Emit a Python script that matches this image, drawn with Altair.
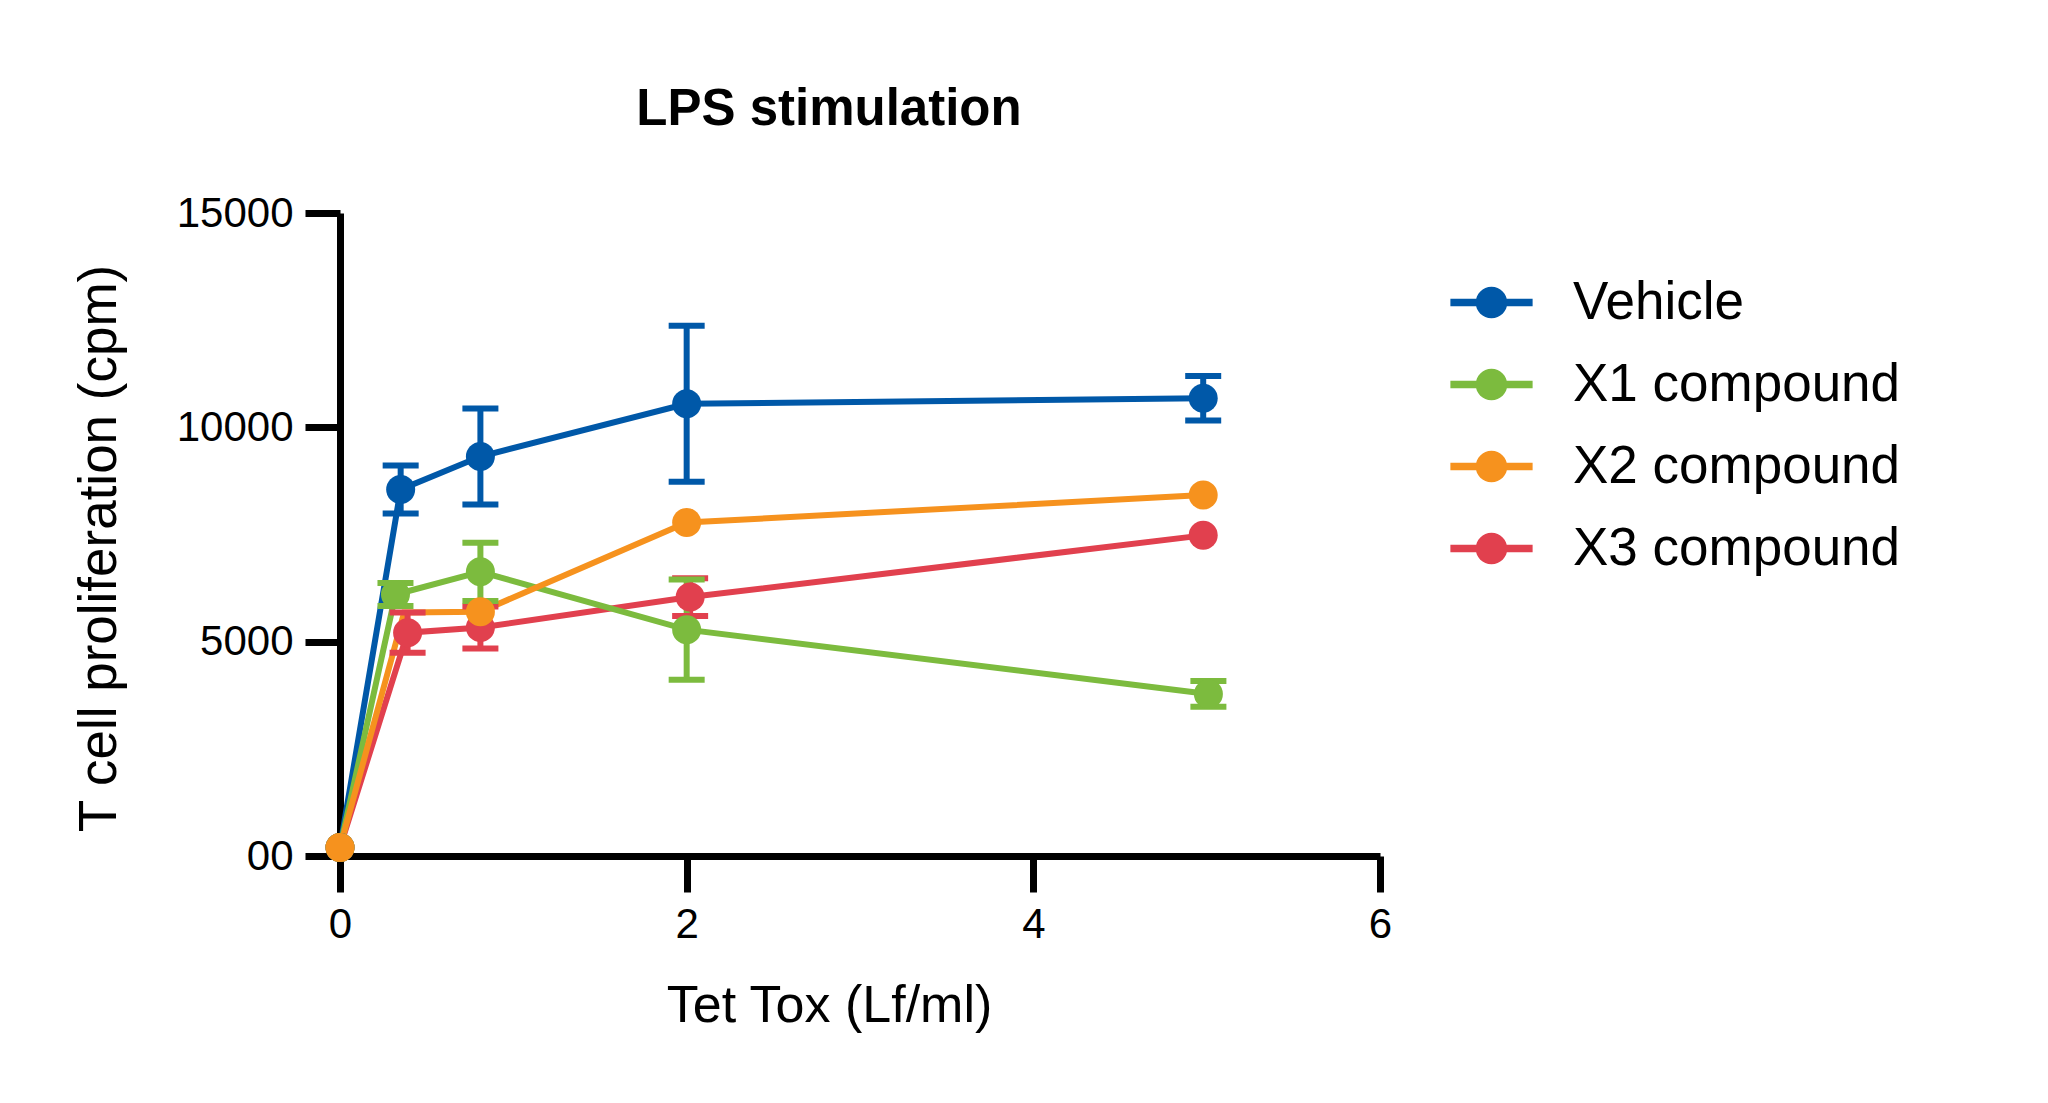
import altair as alt
import pandas as pd

series = ["Vehicle", "X1 compound", "X2 compound", "X3 compound"]
colors = ["#0058A8", "#7CBB3E", "#F6921E", "#E1404E"]
draw_order = ["Vehicle", "X3 compound", "X1 compound", "X2 compound"]

doses = {
    "Vehicle":     [0, 0.35, 0.81, 2.0, 4.98],
    "X1 compound": [0, 0.32, 0.81, 2.0, 5.01],
    "X2 compound": [0, 0.37, 0.81, 2.0, 4.98],
    "X3 compound": [0, 0.39, 0.81, 2.02, 4.98],
}
means = {
    "Vehicle":     [200, 8550, 9320, 10550, 10680],
    "X1 compound": [200, 6100, 6630, 5280, 3780],
    "X2 compound": [200, 5680, 5700, 7780, 8420],
    "X3 compound": [200, 5210, 5330, 6040, 7480],
}
errors = {
    "Vehicle":     [0, 560, 1120, 1820, 520],
    "X1 compound": [0, 270, 680, 1170, 300],
    "X2 compound": [0, 0, 0, 0, 0],
    "X3 compound": [0, 470, 490, 440, 0],
}
# markers that are not visible in the reference (series, point index)
hidden_markers = [("X2 compound", 1)]

x_ticks = [0, 2, 4, 6]
y_ticks = [0, 5000, 10000, 15000]

rows = []
for s in draw_order:
    for i, (xv, yv, ev) in enumerate(zip(doses[s], means[s], errors[s])):
        rows.append({"series": s, "dose": xv, "cpm": yv, "err": ev,
                     "lo": yv - ev, "hi": yv + ev,
                     "marker": (s, i) not in hidden_markers})
df = pd.DataFrame(rows)
df_err = df[df["err"] > 0]
df_pts = df[df["marker"]]

FONT = "Liberation Sans"
color_scale = alt.Scale(domain=series, range=colors)

legend_path = ("M-2.6,-0.24H2.6V0.24H-2.6Z "
               "M-1,0A1,1,0,1,1,1,0A1,1,0,1,1,-1,0Z")

x_enc = alt.X("dose:Q", scale=alt.Scale(domain=[0, 6], nice=False),
              axis=alt.Axis(values=x_ticks, format="d", grid=False, domainWidth=7,
                            domainColor="black", tickWidth=7, tickSize=36,
                            tickColor="black", labelFontSize=42, labelFont=FONT,
                            labelColor="black", labelPadding=12, labelFlush=False,
                            title="Tet Tox (Lf/ml)", titleFont=FONT,
                            titleFontSize=52, titleFontWeight="normal",
                            titleColor="black", titleX=489, titleY=165,
                            titleBaseline="alphabetic", titleAlign="center"))
y_scale = alt.Scale(domain=[0, 15000], nice=False)
y_enc = alt.Y("cpm:Q", scale=y_scale,
              axis=alt.Axis(values=y_ticks, format="d",
                            labelExpr="datum.value == 0 ? '00' : datum.label",
                            grid=False, domainWidth=7, domainColor="black",
                            tickWidth=7, tickSize=35, tickColor="black",
                            labelFontSize=42, labelFont=FONT, labelColor="black",
                            labelPadding=12, labelFlush=False,
                            title="T cell proliferation (cpm)", titleFont=FONT,
                            titleFontSize=53, titleFontWeight="normal",
                            titleColor="black", titleX=-225, titleY=335,
                            titleAngle=270, titleBaseline="alphabetic",
                            titleAlign="center"))

color_nolegend = alt.Color("series:N", scale=color_scale, legend=None)

lines = alt.Chart(df).mark_line(strokeWidth=6).encode(
    x=x_enc, y=y_enc, color=color_nolegend)

rules = alt.Chart(df_err).mark_rule(strokeWidth=6).encode(
    x="dose:Q", y=alt.Y("lo:Q", scale=y_scale), y2="hi:Q", color=color_nolegend)

caps_hi = alt.Chart(df_err).mark_tick(orient="horizontal", thickness=6, size=36,
                                      opacity=1).encode(
    x="dose:Q", y=alt.Y("hi:Q", scale=y_scale), color=color_nolegend)
caps_lo = alt.Chart(df_err).mark_tick(orient="horizontal", thickness=6, size=36,
                                      opacity=1).encode(
    x="dose:Q", y=alt.Y("lo:Q", scale=y_scale), color=color_nolegend)

points = alt.Chart(df_pts).mark_circle(size=841, opacity=1).encode(
    x="dose:Q", y="cpm:Q",
    color=alt.Color("series:N", scale=color_scale,
                    legend=alt.Legend(title=None, orient="none",
                                      legendX=1125, legendY=63, padding=0,
                                      symbolType=legend_path, symbolSize=1000,
                                      symbolStrokeWidth=0, symbolOpacity=1,
                                      labelFont=FONT, labelFontSize=53,
                                      labelColor="black", labelOffset=55,
                                      labelLimit=600, rowPadding=28)))

chart = alt.layer(lines, rules, caps_hi, caps_lo, points).resolve_legend(
    color="independent"
).properties(
    width=1040, height=643,
    title=alt.TitleParams("LPS stimulation", font=FONT, fontSize=51,
                          fontWeight="bold", color="black", anchor="middle",
                          frame="group", dx=-31, offset=56),
    autosize=alt.AutoSizeParams(type="none"),
    padding={"left": 340, "top": 213, "right": 668, "bottom": 247},
).configure(font=FONT, background="white").configure_view(stroke=None)

chart.save("out.html", embed_options={"renderer": "svg", "actions": False})
